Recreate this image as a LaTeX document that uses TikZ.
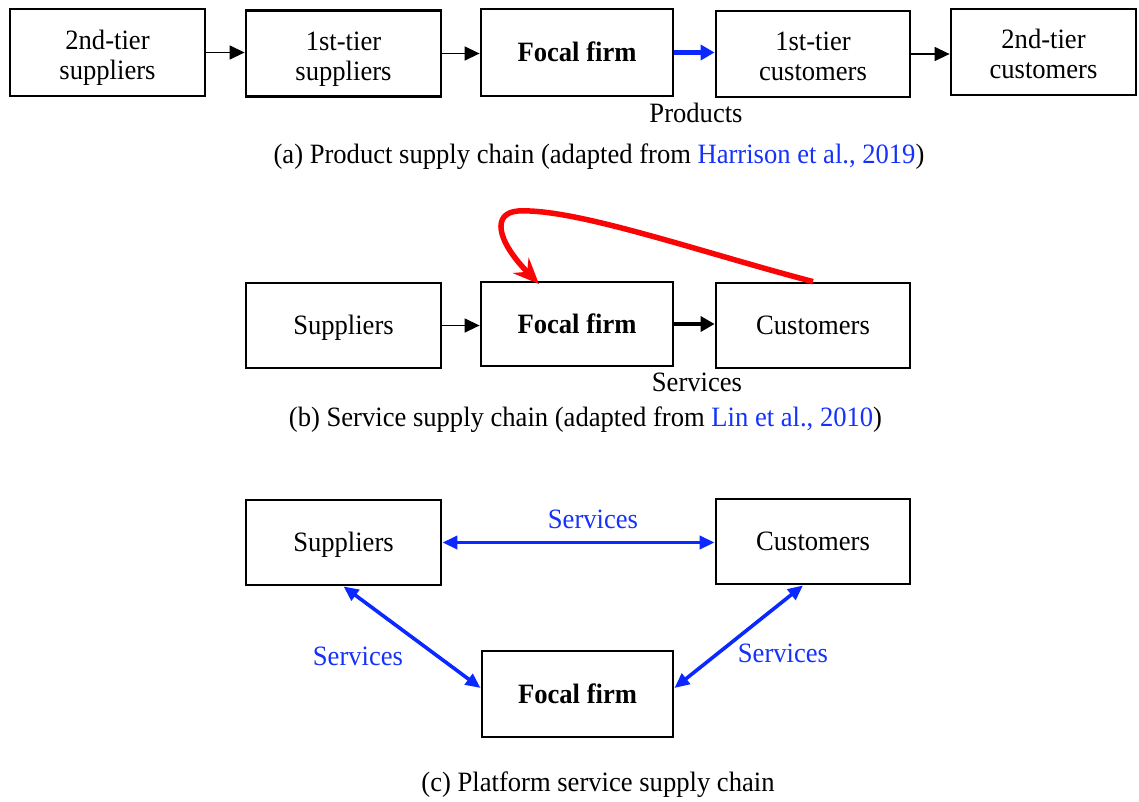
\documentclass[tikz,border=0pt]{standalone}
\usepackage{fontspec}
\setmainfont[FakeStretch=0.95]{Liberation Serif}
\usetikzlibrary{arrows.meta,calc}
\definecolor{linkblue}{RGB}{20,50,250}
\definecolor{flowblue}{RGB}{10,40,255}
\definecolor{flowred}{RGB}{250,5,5}
\newcommand\labelsize{\fontsize{28}{30}\selectfont}
\begin{document}
\begin{tikzpicture}[x=1pt,y=-1pt,
  box/.style={draw, line width=2.8pt, minimum width=195pt, minimum height=86pt,
    align=center, inner sep=0pt, font=\labelsize, text height=24pt, text depth=6pt},
  twoline/.style={text height=59pt, text depth=6pt},
  focal/.style={box, minimum width=192pt, font=\labelsize\bfseries},
  thin/.style={line width=1.4pt, -{Triangle[length=15pt,width=14pt]}},
  bluethick/.style={draw=flowblue, line width=4.5pt, -{Triangle[length=14pt,width=15pt]}},
  blackthick/.style={line width=4pt, -{Triangle[length=14pt,width=15pt]}},
  bothblue/.style={draw=flowblue, line width=3.6pt,
    {Triangle[length=15pt,width=13pt]}-{Triangle[length=15pt,width=13pt]}},
  txt/.style={font=\labelsize, inner sep=0pt},
  bluetxt/.style={txt, text=linkblue},
]
\useasboundingbox (0,0) rectangle (1139,801);

% (a) product supply chain
\node[box, twoline, minimum height=87pt] (a1) at (107.5,52.5) {2nd-tier\\suppliers};
\node[box, twoline] (a2) at (343.5,53.5) {1st-tier\\suppliers};
\node[focal, minimum height=87pt] (a3) at (577,52.5) {Focal firm};
\node[box, twoline, minimum width=194pt] (a4) at (813,54) {1st-tier\\customers};
\node[box, twoline, minimum width=185pt] (a5) at (1043.5,52) {2nd-tier\\customers};
\draw[thin] (a1.east) -- (a1.east -| a2.west);
\draw[thin] (a2.east) -- (a2.east -| a3.west);
\draw[bluethick] (a3.east) -- (a3.east -| a4.west);
\draw[thin] (a4.east) -- (a4.east -| a5.west);
\node[txt] (prod) at (696,113) {Products};
\node[txt] (capa) at (599,157) {(a) Product supply chain (adapted from \textcolor{linkblue}{Harrison et al., 2019})};

% (b) service supply chain
\node[box, minimum height=85pt] (b1) at (343.5,325.5) {Suppliers};
\node[focal, minimum height=84pt] (b2) at (577,324) {Focal firm};
\node[box, minimum width=194pt, minimum height=85pt] (b3) at (813,325.5) {Customers};
\draw[thin] (b1.east) -- (b1.east -| b2.west);
\draw[blackthick] (b2.east) -- (b2.east -| b3.west);
\draw[flowred, line width=5.5pt, -{Stealth[length=26pt,width=22pt,inset=9pt]}]
  (b3.north) .. controls (700,252) and (575,208) .. (518,211)
  .. controls (492,213) and (496,240) .. (539,284);
\node[txt] (serv) at (697,382) {Services};
\node[txt] (capb) at (585.5,420) {(b) Service supply chain (adapted from \textcolor{linkblue}{Lin et al., 2010})};

% (c) platform service supply chain
\node[box, minimum height=85pt] (c1) at (343.5,542.5) {Suppliers};
\node[box, minimum width=194pt, minimum height=85pt] (c2) at (813,541.5) {Customers};
\node[focal, minimum width=191pt] (c3) at (577.5,694) {Focal firm};
\draw[bothblue] (c1.east) -- (c1.east -| c2.west);
\draw[bothblue] (c1.south) -- ($(c3.west)+(0,-6)$);
\draw[bothblue] ($(c2.south)+(-10,0)$) -- ($(c3.east)+(0,-6)$);
\node[bluetxt] (s1) at (593,519) {Services};
\node[bluetxt] (s2) at (358,656) {Services};
\node[bluetxt] (s3) at (783,653) {Services};
\node[txt] (capc) at (598,785) {(c) Platform service supply chain};
\end{tikzpicture}
\end{document}
